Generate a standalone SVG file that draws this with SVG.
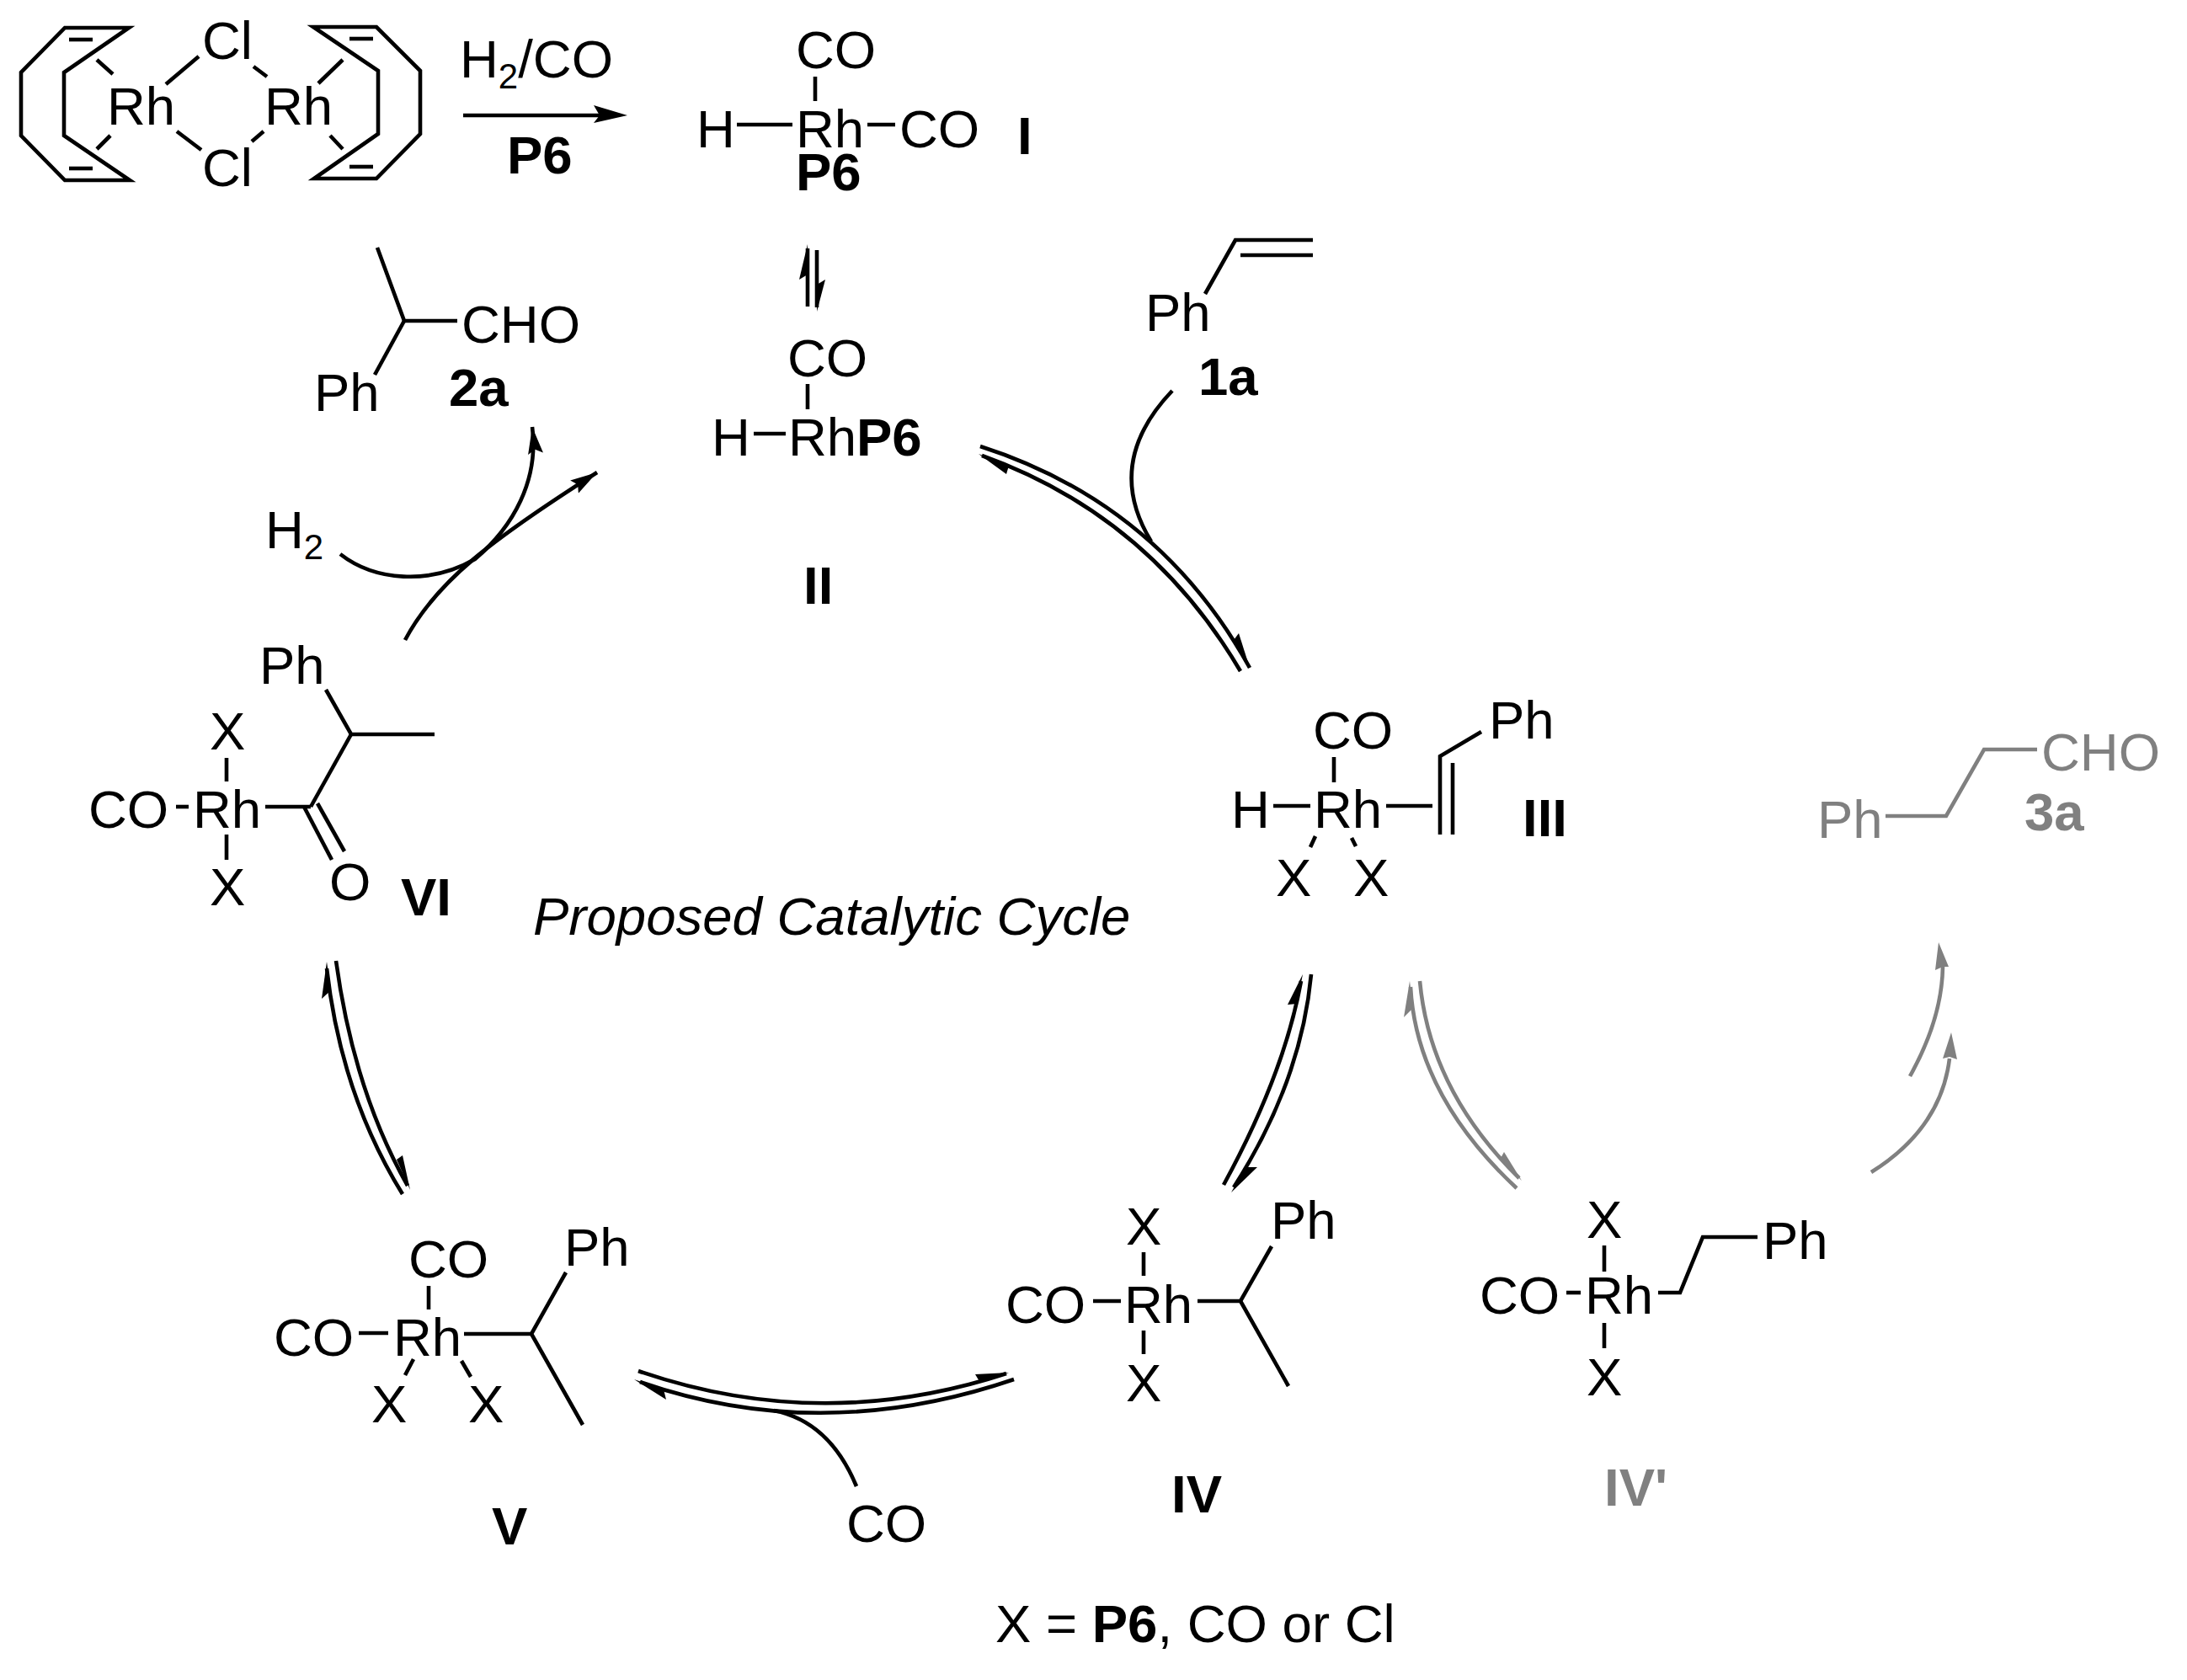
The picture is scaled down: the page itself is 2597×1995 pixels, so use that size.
<svg xmlns="http://www.w3.org/2000/svg" width="2597" height="1995" viewBox="0 0 2597 1995">
<style>
text{font-family:"Liberation Sans",Arial,sans-serif;font-size:63.5px;fill:#000;transform:translateY(1px)}
.b{font-weight:700}
.i{font-style:italic}
.s{font-size:42px}
.g text{fill:#808080}
.g path,.g line,.g polyline{stroke:#808080}
path,line,polyline{fill:none;stroke:#000;stroke-width:4.6;stroke-linejoin:miter}
.h,path.h{fill:#000;stroke:none}
.g .h{fill:#808080;stroke:none}
</style>
<defs>
<marker id="a" markerUnits="userSpaceOnUse" markerWidth="36" markerHeight="24" refX="32" refY="12" orient="auto"><path class="h" d="M32 12L0 3L5 12L0 21Z"/></marker>
</defs>
<rect width="2597" height="1995" fill="#fff"/>
<g id="connectors">
<line x1="550" y1="137" x2="715" y2="137" stroke-width="5"/><polygon class="h" points="745,137 705,125 712,137 705,146"/>
<line x1="959" y1="364" x2="959" y2="295"/><polygon class="h" points="959,290 949,332 959,326"/>
<line x1="970" y1="297" x2="970" y2="365"/><polygon class="h" points="970,370 980,332 970,338"/>
<path d="M1164 530Q1376 598 1484 793"/><path d="M1166 541Q1364 612 1473 797"/><polygon class="h" points="1162,539 1195,563 1198,553"/><polygon class="h" points="1484,793 1471,752 1465,760"/>
<path d="M1392 464Q1310 550 1367 643"/>
<path d="M404 658C445 690 510 695 564 664C610 625 640 570 632 507" marker-end="url(#a)"/>
<path d="M481 760C518 690 585 640 709 561" marker-end="url(#a)"/>
<path d="M388 1150Q405 1300 478 1418"/><path d="M399 1141Q420 1295 484 1408"/><polygon class="h" points="388,1142 382,1186 393,1176"/><polygon class="h" points="487,1413 478,1372 471,1377"/>
<path d="M758 1628Q975 1703 1195 1631"/><path d="M760 1641Q975 1716 1204 1638"/><polygon class="h" points="1198,1630 1158,1632 1164,1642"/><polygon class="h" points="753,1638 791,1662 788,1650"/>
<path d="M1017 1765Q985 1688 919 1675"/>
<path d="M1453 1407Q1525 1275 1545 1165"/><path d="M1557 1157Q1545 1285 1465 1410"/><polygon class="h" points="1547,1157 1529,1193 1540,1192"/><polygon class="h" points="1462,1416 1493,1386 1479,1386"/>
<g class="g">
<path d="M1675 1172Q1682 1300 1801 1411"/><path d="M1686 1165Q1698 1295 1804 1399"/><polygon class="h" points="1674,1165 1667,1208 1678,1197"/><polygon class="h" points="1807,1402 1786,1368 1781,1377"/>
<path d="M2268 1278Q2306 1210 2307 1148"/><polygon class="h" points="2302,1119 2298,1152 2307,1148 2314,1148"/>
<path d="M2222 1392Q2305 1340 2315 1257"/><polygon class="h" points="2317,1226 2307,1257 2315,1255 2324,1258"/>
</g>
</g>
<g id="codimer">
<path d="M153 33H77L25 86V161L77 214H154L76 161V86Z"/>
<line x1="82" y1="47" x2="110" y2="47"/><line x1="82" y1="200" x2="110" y2="200"/>
<line x1="115" y1="71" x2="134" y2="88"/><line x1="115" y1="177" x2="131" y2="161"/>
<text x="127" y="147">Rh</text><text x="314" y="147">Rh</text>
<text x="240" y="69">Cl</text><text x="240" y="220">Cl</text>
<line x1="197" y1="100" x2="236" y2="67"/><line x1="210" y1="156" x2="239" y2="178"/><line x1="301" y1="79" x2="317" y2="91"/><line x1="299" y1="168" x2="313" y2="156"/>
<path d="M372 32H447L499 84V159L447 212H373L449 159V84Z"/>
<line x1="415" y1="46" x2="443" y2="46"/><line x1="415" y1="198" x2="443" y2="198"/>
<line x1="407" y1="71" x2="378" y2="99"/><line x1="392" y1="161" x2="407" y2="177"/>
</g>
<g id="reagents"><text x="546" y="91">H<tspan class="s" dy="13">2</tspan><tspan dy="-13">/CO</tspan></text><text class="b" x="602" y="205">P6</text></g>
<g id="I">
<text x="827" y="174">H</text><text x="945" y="174">Rh</text><text x="1068" y="174">CO</text><text x="945" y="80">CO</text><text class="b" x="945" y="225">P6</text><text class="b" x="1208" y="182">I</text>
<line x1="968" y1="91" x2="968" y2="120"/><line x1="875" y1="148" x2="941" y2="148"/><line x1="1030" y1="148" x2="1063" y2="148"/>
</g>
<g id="II">
<text x="935" y="446">CO</text><text x="845" y="540">H</text><text x="936" y="540">Rh</text><text class="b" x="1017" y="540">P6</text><text class="b" x="954" y="716">II</text>
<line x1="959" y1="456" x2="959" y2="486"/><line x1="895" y1="515" x2="933" y2="515"/>
</g>
<g id="p2a">
<polyline points="448,294 480,381 543,381"/><line x1="480" y1="381" x2="445" y2="445"/>
<text x="548" y="406">CHO</text><text x="373" y="487">Ph</text><text class="b" x="533" y="481">2a</text>
</g>
<g id="H2"><text x="315" y="650">H<tspan class="s" dy="13">2</tspan></text></g>
<g id="s1a">
<polyline points="1431,349 1467,285 1559,285"/><line x1="1473" y1="303" x2="1559" y2="303"/>
<text x="1360" y="392">Ph</text><text class="b" x="1423" y="468">1a</text>
</g>
<g id="III">
<text x="1559" y="888">CO</text><text x="1768" y="876">Ph</text><text x="1462" y="982">H</text><text x="1560" y="982">Rh</text><text x="1515" y="1063">X</text><text x="1607" y="1063">X</text><text class="b" x="1808" y="992">III</text>
<line x1="1512" y1="957" x2="1556" y2="957"/><line x1="1584" y1="899" x2="1584" y2="929"/><line x1="1646" y1="957" x2="1701" y2="957"/>
<polyline points="1759,869 1710,898 1710,991"/><line x1="1725" y1="906" x2="1725" y2="991"/>
<line x1="1562" y1="993" x2="1556" y2="1006"/><line x1="1605" y1="995" x2="1610" y2="1005"/>
</g>
<g id="p3a" class="g">
<text x="2158" y="994">Ph</text><polyline points="2239,969 2311,969 2356,890 2419,890"/><text x="2424" y="914">CHO</text><text class="b" x="2404" y="985">3a</text>
</g>
<g id="VI">
<text x="308" y="811">Ph</text><text x="249" y="889">X</text><text x="105" y="982">CO</text><text x="229" y="982">Rh</text><text x="249" y="1074">X</text><text x="391" y="1068">O</text><text class="b" x="476" y="1086">VI</text>
<polyline points="387,819 417,872 516,872"/><line x1="417" y1="872" x2="369" y2="958"/><line x1="269" y1="900" x2="269" y2="928"/><line x1="209" y1="958" x2="224" y2="958"/><line x1="315" y1="958" x2="369" y2="958"/><line x1="269" y1="991" x2="269" y2="1021"/><line x1="361" y1="958" x2="394" y2="1021"/><line x1="377" y1="954" x2="409" y2="1011"/>
</g>
<text id="caption" class="i" x="633" y="1109">Proposed Catalytic Cycle</text>
<g id="V">
<text x="485" y="1516">CO</text><text x="670" y="1502">Ph</text><text x="325" y="1609">CO</text><text x="467" y="1609">Rh</text><text x="441" y="1688">X</text><text x="556" y="1688">X</text><text class="b" x="584" y="1833">V</text>
<line x1="509" y1="1527" x2="509" y2="1555"/><line x1="426" y1="1583" x2="461" y2="1583"/><line x1="551" y1="1584" x2="631" y2="1584"/><polyline points="672,1511 631,1584 692,1692"/><line x1="491" y1="1614" x2="481" y2="1633"/><line x1="548" y1="1616" x2="559" y2="1635"/>
</g>
<text id="co" x="1005" y="1830">CO</text>
<g id="IV">
<text x="1337" y="1477">X</text><text x="1509" y="1470">Ph</text><text x="1194" y="1570">CO</text><text x="1335" y="1570">Rh</text><text x="1337" y="1663">X</text><text class="b" x="1391" y="1795">IV</text>
<line x1="1298" y1="1545" x2="1331" y2="1545"/><line x1="1358" y1="1487" x2="1358" y2="1515"/><line x1="1358" y1="1580" x2="1358" y2="1608"/><line x1="1422" y1="1545" x2="1473" y2="1545"/><polyline points="1510,1480 1473,1545 1530,1646"/>
</g>
<g id="IVp">
<text x="1884" y="1469">X</text><text x="1757" y="1559">CO</text><text x="1882" y="1559">Rh</text><text x="1884" y="1656">X</text><text x="2093" y="1494">Ph</text>
<line x1="1860" y1="1535" x2="1877" y2="1535"/><line x1="1905" y1="1479" x2="1905" y2="1510"/><line x1="1905" y1="1571" x2="1905" y2="1601"/><polyline points="1969,1535 1995,1535 2022,1469 2087,1469"/>
<g class="g"><text class="b" x="1905" y="1787">IV'</text></g>
</g>
<text id="legend" x="1182" y="1949">X = <tspan class="b">P6</tspan>, CO or Cl</text>
</svg>
